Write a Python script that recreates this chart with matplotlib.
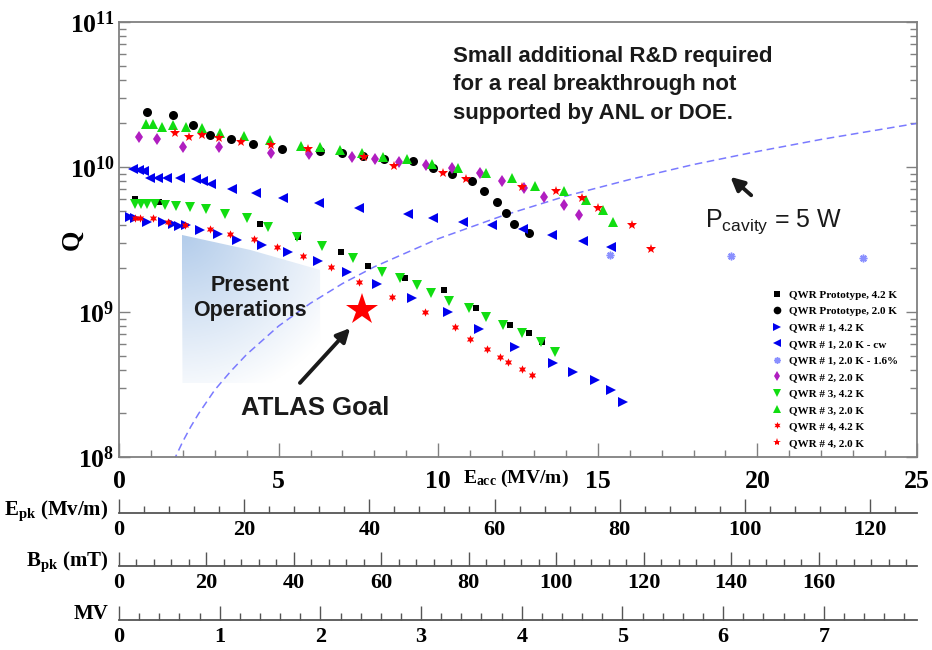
import matplotlib
matplotlib.use("Agg")
import matplotlib.pyplot as plt
import numpy as np
from matplotlib.patches import Polygon
from matplotlib.ticker import FixedLocator, MultipleLocator, LogLocator, FuncFormatter, NullFormatter

plt.rcParams["mathtext.fontset"] = "custom"
plt.rcParams["mathtext.rm"] = "Liberation Serif:bold"
plt.rcParams["mathtext.bf"] = "Liberation Serif:bold"
plt.rcParams["mathtext.sf"] = "Liberation Sans"

SERIF = "Liberation Serif"
SANS = "Liberation Sans"

# Eacc (MV/m) vs Q
proto42_e = [0.49, 1.25, 4.42, 5.61, 6.96, 7.81, 8.97, 10.19, 11.19, 12.26, 12.85, 13.26]
proto42_q = [6.0e9, 5.7e9, 4.05e9, 3.29e9, 2.59e9, 2.08e9, 1.71e9, 1.42e9, 1.07e9, 8.1e8, 7.2e8, 6.2e8]

proto20_e = [0.88, 1.69, 2.32, 2.85, 3.51, 4.20, 5.11, 6.30, 6.99, 7.65, 8.31, 9.22, 9.84, 10.44,
             11.07, 11.44, 11.85, 12.13, 12.38, 12.85]
proto20_q = [2.39e10, 2.29e10, 1.95e10, 1.66e10, 1.56e10, 1.44e10, 1.33e10, 1.29e10, 1.25e10, 1.19e10,
             1.14e10, 1.10e10, 9.8e9, 8.9e9, 8.0e9, 6.8e9, 5.7e9, 4.8e9, 4.05e9, 3.5e9]

q1_42_e = [0.34, 0.50, 0.88, 1.38, 1.69, 1.88, 2.10, 2.54, 3.10, 3.70, 4.48, 5.30, 6.24, 7.15, 8.09,
           9.18, 10.31, 11.29, 12.41, 13.61, 14.23, 14.92, 15.42, 15.80]
q1_42_q = [4.52e9, 4.45e9, 4.17e9, 4.17e9, 4.05e9, 3.92e9, 3.98e9, 3.68e9, 3.45e9, 3.14e9, 2.90e9,
           2.59e9, 2.25e9, 1.89e9, 1.56e9, 1.25e9, 1.0e9, 7.6e8, 5.7e8, 4.45e8, 3.86e8, 3.4e8, 2.9e8, 2.39e8]

q1_cw_e = [0.44, 0.63, 0.78, 0.97, 1.22, 1.50, 1.91, 2.41, 2.63, 2.88, 3.54, 4.29, 5.14, 6.27, 7.52,
           9.06, 9.84, 10.78, 11.69, 12.66, 13.57, 14.55, 15.42]
q1_cw_q = [9.7e9, 9.5e9, 9.4e9, 8.4e9, 8.4e9, 8.4e9, 8.4e9, 8.3e9, 8.0e9, 7.6e9, 7.05e9, 6.6e9, 6.1e9,
           5.65e9, 5.2e9, 4.74e9, 4.45e9, 4.17e9, 3.98e9, 3.74e9, 3.4e9, 3.09e9, 2.81e9]

q1_16_e = [15.39, 19.18, 23.32]
q1_16_q = [2.47e9, 2.43e9, 2.36e9]

q2_e = [0.63, 1.19, 2.01, 3.13, 4.76, 5.96, 7.30, 8.03, 8.78, 9.62, 10.44, 11.32, 12.01, 12.70,
        13.32, 13.95, 14.42]
q2_q = [1.61e10, 1.56e10, 1.37e10, 1.37e10, 1.25e10, 1.23e10, 1.17e10, 1.14e10, 1.08e10, 1.03e10,
        9.8e9, 9.1e9, 8.0e9, 7.2e9, 6.2e9, 5.5e9, 4.67e9]

q3_42_e = [0.50, 0.69, 0.88, 1.13, 1.44, 1.79, 2.23, 2.73, 3.32, 4.01, 4.67, 5.58, 6.36, 7.34, 8.24,
           8.81, 9.34, 9.78, 10.34, 10.97, 11.50, 12.04, 12.63, 13.23, 13.67]
q3_42_q = [5.56e9, 5.56e9, 5.56e9, 5.56e9, 5.47e9, 5.38e9, 5.30e9, 5.13e9, 4.74e9, 4.45e9, 3.85e9,
           3.29e9, 2.85e9, 2.36e9, 1.89e9, 1.71e9, 1.53e9, 1.35e9, 1.19e9, 1.07e9, 9.2e8, 8.1e8,
           7.2e8, 6.2e8, 5.3e8]

q3_20_e = [0.85, 1.07, 1.35, 1.69, 2.10, 2.60, 3.17, 3.92, 4.73, 5.71, 6.30, 6.93, 7.62, 8.28, 9.03,
           9.81, 10.63, 11.50, 12.32, 13.04, 13.95, 14.64, 15.17, 15.49]
q3_20_q = [1.98e10, 1.98e10, 1.89e10, 1.95e10, 1.89e10, 1.86e10, 1.71e10, 1.64e10, 1.54e10, 1.40e10,
           1.37e10, 1.31e10, 1.25e10, 1.17e10, 1.14e10, 1.05e10, 9.8e9, 9.1e9, 8.4e9, 7.4e9, 6.8e9,
           5.9e9, 5.05e9, 4.2e9]

q4_42_e = [0.50, 0.66, 1.07, 1.54, 2.07, 2.85, 3.48, 4.23, 4.95, 5.77, 6.65, 7.52, 8.56, 9.59,
           10.53, 11.00, 11.54, 11.94, 12.19, 12.63, 12.95]
q4_42_q = [4.45e9, 4.45e9, 4.45e9, 4.18e9, 3.98e9, 3.73e9, 3.45e9, 3.18e9, 2.81e9, 2.43e9, 2.04e9,
           1.61e9, 1.27e9, 1.0e9, 7.9e8, 6.5e8, 5.6e8, 4.9e8, 4.5e8, 4.05e8, 3.68e8]

q4_20_e = [1.76, 2.19, 2.60, 3.13, 3.82, 4.76, 5.92, 7.68, 8.62, 10.16, 10.88, 12.63, 13.70, 14.51,
           15.02, 16.08, 16.68]
q4_20_q = [1.71e10, 1.61e10, 1.66e10, 1.58e10, 1.49e10, 1.42e10, 1.33e10, 1.17e10, 1.02e10, 9.1e9,
           8.3e9, 7.3e9, 6.8e9, 6.1e9, 5.2e9, 4.0e9, 2.7e9]

# P_cavity = 5 W line
p5_e = [1.7, 1.75, 2.0, 2.25, 2.5, 3, 3.5, 4, 5, 6, 7, 8, 10, 12, 14, 16, 18, 20, 22, 25]
p5_q = [9.3e7, 9.8e7, 1.28e8, 1.62e8, 2.0e8, 2.9e8, 3.9e8, 5.1e8, 8.0e8, 1.15e9, 1.57e9, 2.05e9,
        3.2e9, 4.6e9, 6.3e9, 8.2e9, 1.04e10, 1.28e10, 1.55e10, 2.0e10]

goal_e, goal_q = 7.62, 1.03e9

# present operations region (Eacc, Q)
present_e = [1.97, 4.11, 6.30, 6.30, 1.99]
present_q = [3.4e9, 2.68e9, 1.95e9, 3.24e8, 3.24e8]

# conversion from Eacc to the lower scales
epk_per_eacc = 5.1
bpk_per_eacc = 7.3
mv_per_eacc = 0.317

series = [
    (proto42_e, proto42_q, "s", "black", 5, 0, "QWR Prototype, 4.2 K"),
    (proto20_e, proto20_q, "o", "black", 6.5, 0, "QWR Prototype, 2.0 K"),
    (q1_42_e, q1_42_q, ">", "#0000ee", 7, 0, "QWR # 1, 4.2 K"),
    (q1_cw_e, q1_cw_q, "<", "#0000ee", 7, 0, "QWR # 1, 2.0 K - cw"),
    (q1_16_e, q1_16_q, (8, 2, 0), "#8a90ff", 5.5, 1.1, "QWR # 1, 2.0 K - 1.6%"),
    (q2_e, q2_q, "d", "#b01ec0", 6.5, 0, "QWR # 2, 2.0 K"),
    (q3_42_e, q3_42_q, "v", "#11dd11", 7, 0, "QWR # 3, 4.2 K"),
    (q3_20_e, q3_20_q, "^", "#11dd11", 7, 0, "QWR # 3, 2.0 K"),
    (q4_42_e, q4_42_q, (6, 1, 0), "red", 6, 0, "QWR # 4, 4.2 K"),
    (q4_20_e, q4_20_q, "*", "red", 7, 0, "QWR # 4, 2.0 K"),
]

fig = plt.figure(figsize=(9.32, 6.5), dpi=100)
W, H = 932, 650
ax = fig.add_axes([119 / W, 1 - 457 / H, 798 / W, 435 / H])

grey = "#808080"
for sp in ax.spines.values():
    sp.set_color(grey)
    sp.set_linewidth(1.3)

ax.plot(p5_e, p5_q, color="#7a7aff", lw=1.1, dashes=(5, 3), zorder=2)

for e, q, m, c, ms, mew, lab in series:
    ax.plot(e, q, ls="none", marker=m, color=c, ms=ms, mew=mew, label=lab, zorder=4)

ax.plot([goal_e], [goal_q], ls="none", marker="*", color="red", ms=24, mew=0, zorder=5)

ax.set_yscale("log")
ax.set_xlim(0, 25)
ax.set_ylim(1e8, 1e11)

# gradient fill for present operations
poly = Polygon(np.column_stack([present_e, present_q]), closed=True, fc="none", ec="none",
               transform=ax.transData)
ax.add_patch(poly)
fig.canvas.draw()
pts = (ax.transData + ax.transAxes.inverted()).transform(np.column_stack([present_e, present_q]))
x0, x1 = pts[:, 0].min(), pts[:, 0].max()
y0, y1 = pts[:, 1].min(), pts[:, 1].max()
u = np.linspace(0, 1, 200)[None, :]
v = np.linspace(0, 1, 200)[:, None]
t = np.clip(np.sqrt((u * 0.9) ** 2 + (v * 1.0) ** 2) / 1.15, 0, 1)
c0 = np.array([0.70, 0.80, 0.92])
c1 = np.array([1.0, 1.0, 1.0])
img = c0[None, None, :] * (1 - t[..., None]) + c1[None, None, :] * t[..., None]
im = ax.imshow(img, extent=[x0, x1, y0, y1], transform=ax.transAxes, aspect="auto",
               origin="upper", zorder=1, interpolation="bilinear")
im.set_clip_path(poly)
ax.set_xlim(0, 25)
ax.set_ylim(1e8, 1e11)
ax.set_aspect("auto")

# ticks
ax.xaxis.set_major_locator(FixedLocator([0, 5, 10, 15, 20, 25]))
ax.xaxis.set_minor_locator(MultipleLocator(1))
ax.yaxis.set_major_locator(FixedLocator([1e8, 1e9, 1e10, 1e11]))
ax.yaxis.set_minor_locator(LogLocator(base=10, subs=np.arange(2, 10)))
ax.yaxis.set_minor_formatter(NullFormatter())
ax.yaxis.set_major_formatter(FuncFormatter(lambda v, p: r"$\mathrm{10^{%d}}$" % round(np.log10(v))))
ax.tick_params(axis="both", which="both", direction="in", color=grey, width=1)
ax.tick_params(axis="x", which="major", length=10, pad=9)
ax.tick_params(axis="x", which="minor", length=5)
ax.tick_params(axis="y", which="major", length=8, pad=3, right=True)
ax.tick_params(axis="y", which="minor", length=5, right=True)
for lb in ax.get_xticklabels() + ax.get_yticklabels():
    lb.set_fontfamily(SERIF)
    lb.set_fontweight("bold")
    lb.set_fontsize(18.5)

fig.text(72 / W, 1 - 240 / H, "Q", fontfamily=SERIF, fontweight="bold", fontsize=19,
         rotation=90, ha="center", va="center")
fig.text(463 / W, 1 - 478 / H, r"$\mathrm{E_{acc}}$ (MV/m)", fontfamily=SERIF, fontweight="bold",
         fontsize=14, ha="left", va="center")

# legend
leg = ax.legend(loc="upper left", bbox_to_anchor=(771 / W, 1 - 290 / H), bbox_transform=fig.transFigure,
                frameon=False, numpoints=1, handlelength=1.0, handletextpad=0.6, labelspacing=0.6,
                borderpad=0, borderaxespad=0, prop={"family": SERIF, "weight": "bold", "size": 8},
                markerscale=0.85)

# annotations
ax.text(10.45, 3.68e10, "Small additional R&D required\nfor a real breakthrough not\nsupported by ANL or DOE.",
        fontfamily=SANS, fontweight="bold", fontsize=16, ha="left", va="center", linespacing=1.45,
        color="#1a1a1a")
ax.text(4.11, 1.25e9, "Present\nOperations", fontfamily=SANS, fontweight="bold", fontsize=15.5,
        ha="center", va="center", linespacing=1.3, color="#1a1a1a", zorder=3)
ax.text(6.14, 2.18e8, "ATLAS Goal", fontfamily=SANS, fontweight="bold", fontsize=18.5,
        ha="center", va="center", color="#1a1a1a")
ax.annotate("", xy=(7.30, 8.0e8), xytext=(5.61, 3.14e8),
            arrowprops=dict(arrowstyle="-|>", lw=2.8, color="#1a1a1a", mutation_scale=20))
ax.text(18.37, 4.18e9, r"$\mathsf{P_{cavity}}$ = 5 W", fontfamily=SANS, fontsize=18,
        ha="left", va="center", color="#1a1a1a")
ax.annotate("", xy=(19.09, 8.8e9), xytext=(19.87, 6.2e9),
            arrowprops=dict(arrowstyle="-|>", lw=2.8, color="#1a1a1a", mutation_scale=20))

# lower scales
lower = [
    (513, epk_per_eacc, list(range(0, 121, 20)), 4, r"$\mathrm{E_{pk}}$ (Mv/m)", 511),
    (566, bpk_per_eacc, list(range(0, 161, 20)), 4, r"$\mathrm{B_{pk}}$ (mT)", 562),
    (620, mv_per_eacc, list(range(0, 8)), 0.2, "MV", 614),
]
for ypix, fac, majors, minor, lab, ylab in lower:
    lax = fig.add_axes([119 / W, 1 - ypix / H, 798 / W, 0.03])
    lax.patch.set_visible(False)
    for s in ["left", "right", "top"]:
        lax.spines[s].set_visible(False)
    lax.spines["bottom"].set_color("#555555")
    lax.spines["bottom"].set_linewidth(1.3)
    lax.set_yticks([])
    lax.set_xlim(0, 25 * fac)
    lax.xaxis.set_major_locator(FixedLocator(majors))
    lax.xaxis.set_minor_locator(MultipleLocator(minor))
    lax.tick_params(axis="x", which="both", direction="in", color="#555555", width=1)
    lax.tick_params(axis="x", which="major", length=10, pad=5)
    lax.tick_params(axis="x", which="minor", length=5)
    for lb in lax.get_xticklabels():
        lb.set_fontfamily(SERIF)
        lb.set_fontweight("bold")
        lb.set_fontsize(16)
    fig.text(108 / W, 1 - ylab / H, lab, fontfamily=SERIF, fontweight="bold", fontsize=15,
             ha="right", va="center")

fig.savefig("out.png", dpi=100)
